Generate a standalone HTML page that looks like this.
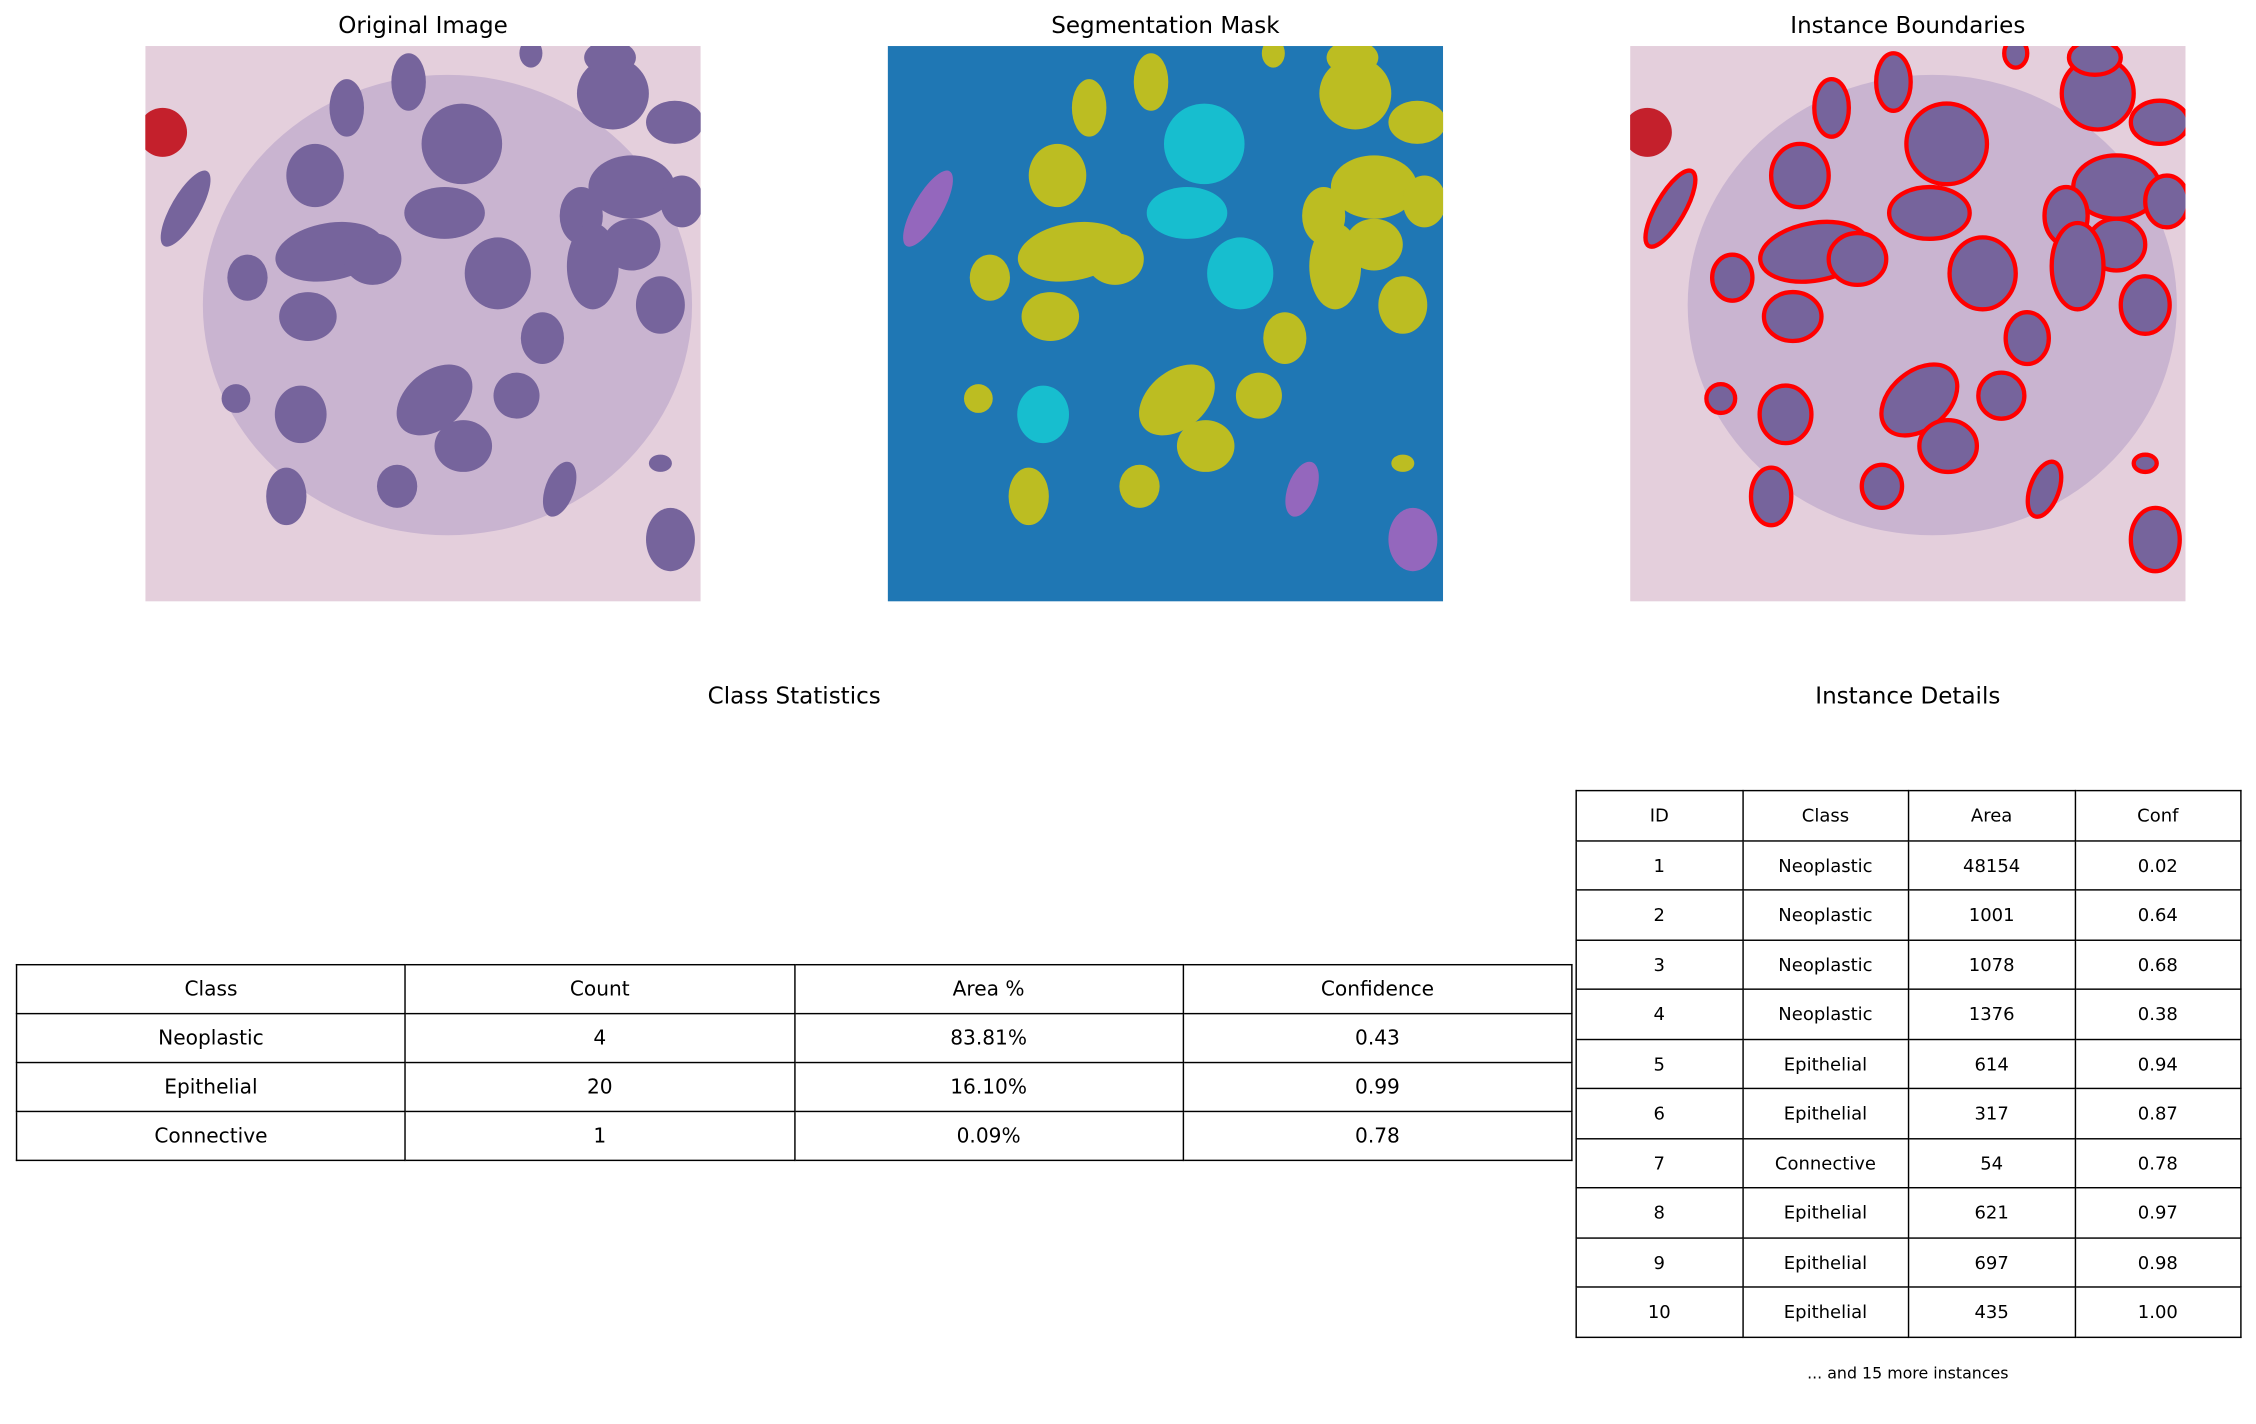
<!DOCTYPE html>
<html><head><meta charset="utf-8"><style>
html,body{margin:0;padding:0;background:#fff;width:2256px;height:1424px;overflow:hidden}
#wrap{position:absolute;left:0;top:0;width:1568px;height:990px;transform:scale(1.43878);transform-origin:0 0;font-family:"DejaVu Sans","Liberation Sans",sans-serif;color:#000}
.title{position:absolute;font-size:16px;transform:translateX(-50%);white-space:nowrap}
.panel{position:absolute;top:32px;width:386px;height:386px}
table{position:absolute;border-collapse:collapse;table-layout:fixed}
td{border:1px solid #000;text-align:center;padding:0}
#stats td{height:33px;font-size:14px}
#inst td{height:33.5px;font-size:12.5px}
</style></head><body>
<div id="wrap">
<div class="title" style="left:294px;top:8px">Original Image</div>
<div class="title" style="left:810px;top:8px">Segmentation Mask</div>
<div class="title" style="left:1326px;top:8px">Instance Boundaries</div>
<svg class="panel" id="p1" style="left:101px" viewBox="0 0 386 386"></svg>
<svg class="panel" id="p2" style="left:617px" viewBox="0 0 386 386"></svg>
<svg class="panel" id="p3" style="left:1133px" viewBox="0 0 386 386"></svg>
<div class="title" style="left:552px;top:474px">Class Statistics</div>
<div class="title" style="left:1326px;top:474px">Instance Details</div>
<table id="stats" style="left:11px;top:670px;width:1082px">
<colgroup><col style="width:25%"><col style="width:25%"><col style="width:25%"><col style="width:25%"></colgroup>
<tr><td>Class</td><td>Count</td><td>Area %</td><td>Confidence</td></tr>
<tr><td>Neoplastic</td><td>4</td><td>83.81%</td><td>0.43</td></tr>
<tr><td>Epithelial</td><td>20</td><td>16.10%</td><td>0.99</td></tr>
<tr><td>Connective</td><td>1</td><td>0.09%</td><td>0.78</td></tr>
</table>
<table id="inst" style="left:1095px;top:549px;width:463px">
<colgroup><col style="width:25%"><col style="width:25%"><col style="width:25%"><col style="width:25%"></colgroup>
<tr><td>ID</td><td>Class</td><td>Area</td><td>Conf</td></tr>
<tr><td>1</td><td>Neoplastic</td><td>48154</td><td>0.02</td></tr>
<tr><td>2</td><td>Neoplastic</td><td>1001</td><td>0.64</td></tr>
<tr><td>3</td><td>Neoplastic</td><td>1078</td><td>0.68</td></tr>
<tr><td>4</td><td>Neoplastic</td><td>1376</td><td>0.38</td></tr>
<tr><td>5</td><td>Epithelial</td><td>614</td><td>0.94</td></tr>
<tr><td>6</td><td>Epithelial</td><td>317</td><td>0.87</td></tr>
<tr><td>7</td><td>Connective</td><td>54</td><td>0.78</td></tr>
<tr><td>8</td><td>Epithelial</td><td>621</td><td>0.97</td></tr>
<tr><td>9</td><td>Epithelial</td><td>697</td><td>0.98</td></tr>
<tr><td>10</td><td>Epithelial</td><td>435</td><td>1.00</td></tr>
</table>
<div class="title" style="left:1326px;top:948px;font-size:11px">... and 15 more instances</div>
</div>
<script>
const nx=[183,140,220,325,368,323,268,118,28,208,338,373,303,338,128,158,71,245,311,358,113,276,201,258,108,63,221,175,98,288,365,358];
const ny=[25,43,68,33,53,8,5,90,113,116,98,108,118,138,143,148,161,158,153,180,188,203,246,243,256,245,278,306,313,308,343,290];
const nrx=[12,12,28,25,20,18,8,20,10,28,30,15,15,20,38,20,14,23,18,17,20,15,30,16,18,10,20,14,14,10,17,8];
const nry=[20,20,28,25,15,12,10,22,30,18,22,18,20,18,20,18,16,25,30,20,17,18,20,16,20,10,18,15,20,20,22,6];
const nrot=[0,0,0,0,0,0,0,0,30,0,0,0,0,0,-10,0,0,0,0,0,0,0,-40,0,0,0,0,0,0,20,0,0];
const ncls=['o','o','c','o','o','o','o','o','p','c','o','o','o','o','o','o','o','c','o','o','o','o','o','o','c','o','o','o','o','p','p','o'];
const NS='http://www.w3.org/2000/svg';
const col={o:'#bcbd22',c:'#17becf',p:'#9467bd'};
function bg(svg,fill){const r=document.createElementNS(NS,'rect');r.setAttribute('width',386);r.setAttribute('height',386);r.setAttribute('fill',fill);svg.appendChild(r);}
function tissue(svg){
  bg(svg,'#e4cfdc');
  const g=document.createElementNS(NS,'ellipse');g.setAttribute('cx',210);g.setAttribute('cy',180);g.setAttribute('rx',170);g.setAttribute('ry',160);g.setAttribute('fill','#b8a2c8');g.setAttribute('opacity','0.6');svg.appendChild(g);
  const rb=document.createElementNS(NS,'circle');rb.setAttribute('cx',12);rb.setAttribute('cy',60);rb.setAttribute('r',17);rb.setAttribute('fill','#c4202c');svg.appendChild(rb);
}
['p1','p2','p3'].forEach((id,k)=>{
  const svg=document.getElementById(id);
  if(k===1)bg(svg,'#1f77b4');else tissue(svg);
  for(let i=0;i<nx.length;i++){
    const e=document.createElementNS(NS,'ellipse');
    
    
    e.setAttribute('cx',nx[i]);e.setAttribute('cy',ny[i]);e.setAttribute('rx',nrx[i]);e.setAttribute('ry',nry[i]);
    e.setAttribute('transform','rotate('+nrot[i]+' '+nx[i]+' '+ny[i]+')');
    if(k===1){e.setAttribute('fill',col[ncls[i]]);}
    else{e.setAttribute('fill','#76649c');if(k===2){e.setAttribute('stroke','#ff0000');e.setAttribute('stroke-width','3');}}
    svg.appendChild(e);
  }
});
</script>
</body></html>
